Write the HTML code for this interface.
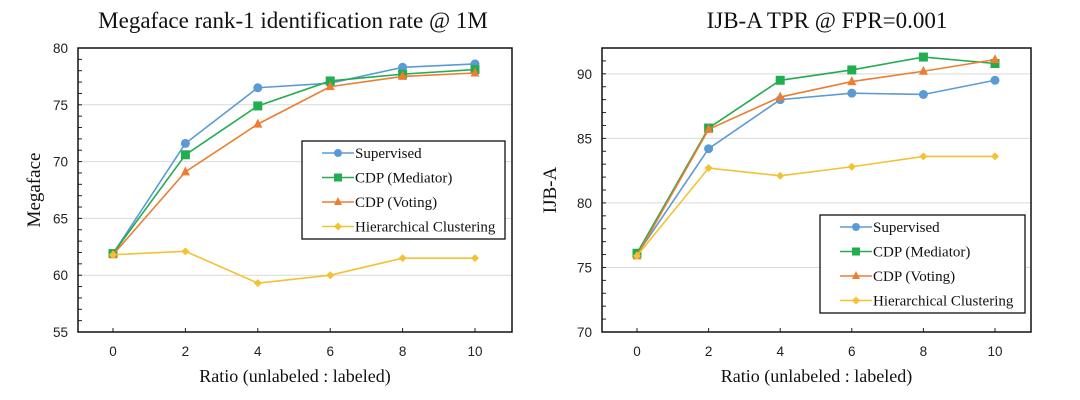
<!DOCTYPE html>
<html><head><meta charset="utf-8"><style>
body{margin:0;background:#fff;width:1080px;height:400px;overflow:hidden}
svg{display:block}
.serif{font-family:"Liberation Serif",serif;fill:#111}
.sans{font-family:"Liberation Sans",sans-serif;fill:#222;font-size:13.5px}
</style></head><body>
<svg id="svg" width="1080" height="400"></svg>
<script>
const xCats=[0,2,4,6,8,10];
const seriesNames=["Supervised","CDP (Mediator)","CDP (Voting)","Hierarchical Clustering"];
const megaSupervised=[61.9,71.6,76.5,76.9,78.3,78.6];
const megaMediator=[61.9,70.6,74.9,77.1,77.7,78.1];
const megaVoting=[61.8,69.1,73.3,76.6,77.5,77.8];
const megaHC=[61.8,62.1,59.3,60.0,61.5,61.5];
const megaYTicks=[55,60,65,70,75,80];
const ijbSupervised=[76.0,84.2,88.0,88.5,88.4,89.5];
const ijbMediator=[76.1,85.8,89.5,90.3,91.3,90.8];
const ijbVoting=[75.9,85.7,88.2,89.4,90.2,91.1];
const ijbHC=[75.9,82.7,82.1,82.8,83.6,83.6];
const ijbYTicks=[70,75,80,85,90];

const colors=["#5b9bd5","#22ad50","#ed7d31","#f3c232"];
const markers=["circle","square","triangle","diamond"];
const NS="http://www.w3.org/2000/svg";
const svg=document.getElementById('svg');
function mk(tag,attrs,parent,text){const e=document.createElementNS(NS,tag);for(const k in attrs)e.setAttribute(k,attrs[k]);if(text!==undefined)e.textContent=text;(parent||svg).appendChild(e);return e;}
function marker(g,type,x,y,c,s){
  let e;
  if(type==="circle")e=mk('circle',{cx:x,cy:y,r:s},g);
  else if(type==="square")e=mk('rect',{x:x-s,y:y-s,width:2*s,height:2*s},g);
  else if(type==="triangle")e=mk('polygon',{points:`${x},${y-s-1} ${x-s},${y+s-1} ${x+s},${y+s-1}`},g);
  else e=mk('polygon',{points:`${x},${y-s} ${x+s},${y} ${x},${y+s} ${x-s},${y}`},g);
  e.setAttribute('fill',c);
  
  
}
function chart(cfg){
  const g=mk('g',{});
  
  
  const {L,R,T,B,ymin,ymax,x0,x10}=cfg;
  const sx=v=>x0+(x10-x0)*v/10;
  const sy=v=>B-(B-T)*(v-ymin)/(ymax-ymin);
  cfg.yTicks.forEach(t=>{
    if(t>ymin&&t<ymax){const l=mk('line',{x1:L,x2:R,y1:sy(t),y2:sy(t),stroke:'#d9d9d9','stroke-width':1},g);
    }
    const tx=mk('text',{x:L-10,y:sy(t)+5,'text-anchor':'end',class:'sans'},g,t);
    
  });
  for(let v=ymin;v<=ymax;v++){mk('line',{x1:L,x2:L+4,y1:sy(v),y2:sy(v),stroke:'#222','stroke-width':1},g);}
  xCats.forEach(c=>{
    const tx=mk('text',{x:sx(c),y:B+24,'text-anchor':'middle',class:'sans'},g,c);
    
    mk('line',{x1:sx(c),x2:sx(c),y1:B,y2:B-4,stroke:'#222'},g);
  });
  const box=mk('rect',{x:L,y:T,width:R-L,height:B-T,fill:'none',stroke:'#111','stroke-width':1.5},g);
  
  cfg.series.forEach((s,i)=>{
    const pts=s.map((v,j)=>sx(xCats[j])+','+sy(v)).join(' ');
    const pl=mk('polyline',{points:pts,fill:'none',stroke:colors[i],'stroke-width':1.6},g);
    
    s.forEach((v,j)=>marker(g,markers[i],sx(xCats[j]),sy(v),colors[i],i===3?4:4.5));
  });
  const t=mk('text',{x:cfg.tx,y:28,'text-anchor':'middle',class:'serif','font-size':23},g,cfg.title);
  
  const xt=mk('text',{x:(L+R)/2,y:B+50,'text-anchor':'middle',class:'serif','font-size':18},g,'Ratio (unlabeled : labeled)');
  
  const yt=mk('text',{x:cfg.ytx,y:(T+B)/2,'text-anchor':'middle',class:'serif','font-size':19,transform:`rotate(-90 ${cfg.ytx} ${(T+B)/2})`},g,cfg.ytitle);
  
  const lg=mk('g',{},g);
  
  const [lx,ly,lw,lh]=cfg.legend;
  mk('rect',{x:lx,y:ly,width:lw,height:lh,fill:'#fff',stroke:'#111','stroke-width':1.3},lg);
  seriesNames.forEach((n,i)=>{
    const yy=ly+12+i*24.5;
    const e=mk('g',{},lg);
    
    mk('line',{x1:lx+20,x2:lx+52,y1:yy,y2:yy,stroke:colors[i],'stroke-width':1.6},e);
    marker(e,markers[i],lx+36,yy,colors[i],4);
    mk('text',{x:lx+53,y:yy+5,class:'serif','font-size':15},e,n);
  });
}
chart({name:'megaface-chart',L:78,R:512,T:48,B:332,ymin:55,ymax:80,x0:113,x10:475,yTicks:megaYTicks,
  series:[megaSupervised,megaMediator,megaVoting,megaHC],title:'Megaface rank-1 identification rate @ 1M',tx:293,
  ytitle:'Megaface',ytx:40,legend:[302,141,203,98]});
chart({name:'ijba-chart',L:602,R:1031,T:48,B:332,ymin:70,ymax:92,x0:637,x10:995,yTicks:ijbYTicks,
  series:[ijbSupervised,ijbMediator,ijbVoting,ijbHC],title:'IJB-A  TPR @ FPR=0.001',tx:827,
  ytitle:'IJB-A',ytx:556,legend:[820,215,205,98]});
</script>
</body></html>
